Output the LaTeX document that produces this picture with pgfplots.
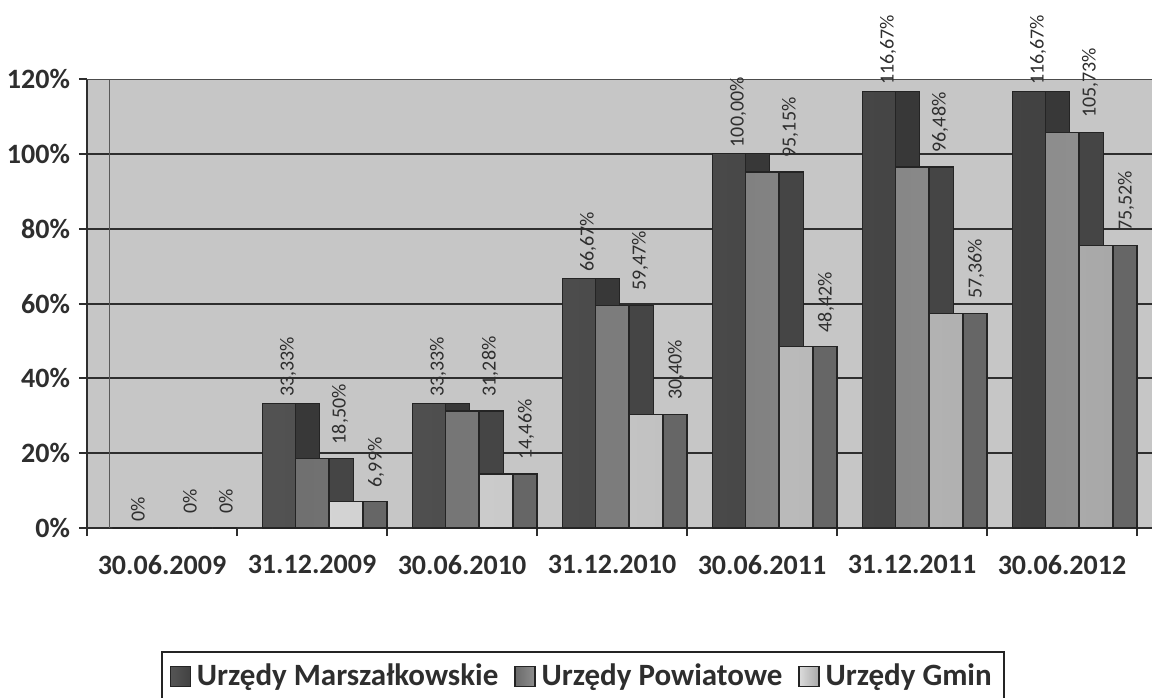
\documentclass[border=0pt]{standalone}
\usepackage{fontspec}
\setmainfont{Carlito}
\usepackage{pgfplots}
\pgfplotsset{compat=1.18}
\usepackage{pgfplotstable}

\definecolor{bgc}{HTML}{C6C6C6}
\definecolor{gridc}{HTML}{2E2E2E}
\definecolor{txt}{HTML}{2E2E2E}
\definecolor{edgec}{HTML}{242424}
\definecolor{mfA}{HTML}{555555}
\definecolor{mfB}{HTML}{424242}
\definecolor{mside}{HTML}{383838}
\definecolor{pfA}{HTML}{6A6A6A}
\definecolor{pfB}{HTML}{8E8E8E}
\definecolor{pside}{HTML}{454545}
\definecolor{gfA}{HTML}{DCDCDC}
\definecolor{gfB}{HTML}{A8A8A8}
\definecolor{gside}{HTML}{666666}

\pgfplotstableread{
x y lab
0 0 0
1 33.33 33,33
2 33.33 33,33
3 66.67 66,67
4 100.00 100,00
5 116.67 116,67
6 116.67 116,67
}\marsz
\pgfplotstableread{
x y lab
0 0 0
1 18.50 18,50
2 31.28 31,28
3 59.47 59,47
4 95.15 95,15
5 96.48 96,48
6 105.73 105,73
}\powiat
\pgfplotstableread{
x y lab
0 0 0
1 6.99 6,99
2 14.46 14,46
3 30.40 30,40
4 48.42 48,42
5 57.36 57,36
6 75.52 75,52
}\gmin

\pgfplotsset{
  legsq/.style={legend image code/.code={\draw[##1,draw=edgec,line width=0.6pt] (0pt,-5pt) rectangle (10pt,5pt);}},
  lbl/.style 2 args={nodes near coords={\pgfplotspointmeta\%}, point meta=explicit symbolic,
     every node near coord/.append style={xshift=#1, yshift=#2, rotate=90, anchor=west,
       inner sep=1pt, font=\fontsize{10}{12}\selectfont, text=txt}},
}

\begin{document}
\begin{tikzpicture}
\useasboundingbox (-43.5pt,-84.5pt) rectangle (532.5pt,264pt);
\begin{axis}[
  at={(0,0)}, anchor=south west,
  scale only axis,
  width=532.5pt, height=224.5pt,
  xmin=-0.5, xmax=6.6, ymin=0, ymax=120,
  axis lines*=left,
  axis line style={draw=gridc, line width=1pt},
  axis background/.style={fill=bgc},
  xtick={-0.5,0.5,...,6.5},
  x tick label as interval,
  xticklabels={30.06.2009,31.12.2009,30.06.2010,31.12.2010,30.06.2011,31.12.2011,30.06.2012},
  ytick={0,20,...,120},
  yticklabel={\pgfmathprintnumber{\tick}\%},
  /pgf/number format/assume math mode=true,
  extra y ticks={20,40,60,80,100},
  extra y tick labels={},
  extra y tick style={ymajorgrids=true, major tick length=0pt},
  major grid style={draw=gridc, line width=1pt},
  tick align=outside,
  major tick length=4pt,
  tick style={draw=gridc, line width=1pt},
  ticklabel style={font=\bfseries\fontsize{14}{16}\selectfont, text=txt},
  xticklabel style={yshift=-6pt},
  yticklabel style={xshift=-1pt},
  clip=false,
  legend columns=3,
  legend style={at={(0.4655,-0.274)}, anchor=north, draw=edgec, line width=1pt,
     font=\bfseries\fontsize{15.5}{17}\selectfont, text=txt, fill=white,
     inner xsep=4pt, inner ysep=4pt,
     /tikz/every even column/.append style={column sep=6pt},
     /tikz/every odd column/.append style={column sep=1pt}},
  legend cell align=left,
]
\draw[gray!70!black, line width=0.5pt] (axis cs:-0.347,0) -- (axis cs:-0.347,120);
\draw[gray!60!black, line width=0.5pt] (rel axis cs:0,1) -- (rel axis cs:1,1);

% Marszalkowskie
\addplot[ybar, bar width=0.16, bar shift=-0.03, fill=mside, draw=edgec, line width=0.6pt, forget plot] table[x=x,y=y] {\marsz};
\addplot[ybar, bar width=0.22, bar shift=-0.22, left color=mfA, right color=mfB, draw=edgec, line width=0.6pt, legsq, lbl={-12pt}{2pt}] table[x=x,y=y,meta=lab] {\marsz};
\addlegendentry{Urzędy Marszałkowskie}
% Powiatowe
\addplot[ybar, bar width=0.16, bar shift=0.195, fill=pside, draw=edgec, line width=0.6pt, forget plot] table[x=x,y=y] {\powiat};
\addplot[ybar, bar width=0.22, bar shift=0.0, left color=pfA, right color=pfB, draw=edgec, line width=0.6pt, legsq, lbl={14pt}{6pt}] table[x=x,y=y,meta=lab] {\powiat};
\addlegendentry{Urzędy Powiatowe}
% Gmin
\addplot[ybar, bar width=0.16, bar shift=0.42, fill=gside, draw=edgec, line width=0.6pt, forget plot] table[x=x,y=y] {\gmin};
\addplot[ybar, bar width=0.22, bar shift=0.225, left color=gfA, right color=gfB, draw=edgec, line width=0.6pt, legsq, lbl={32pt}{6pt}] table[x=x,y=y,meta=lab] {\gmin};
\addlegendentry{Urzędy Gmin}
\end{axis}
\end{tikzpicture}
\end{document}
